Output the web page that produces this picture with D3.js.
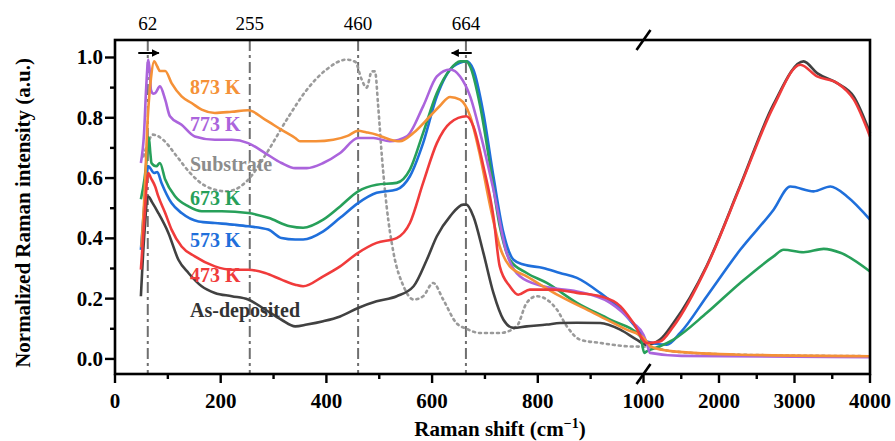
<!DOCTYPE html>
<html>
<head>
<meta charset="utf-8">
<script src="https://cdn.jsdelivr.net/npm/d3@7"></script>
<style>
  html, body { margin: 0; padding: 0; background: #fff; }
  svg { display: block; }
  text { font-family: "Liberation Serif", "Times New Roman", serif; }
</style>
</head>
<body>
<script>
// Raman spectra, [shift (cm^-1), normalized intensity]
const substrate = [[54,0.672],[63,0.72],[72,0.744],[91,0.727],[117,0.672],[142,0.617],[173,0.572],[211,0.556],[249,0.589],[287,0.683],[325,0.794],[363,0.893],[400,0.96],[438,0.993],[455,0.985],[466,0.93],[476,0.9],[486,0.954],[492,0.954],[498,0.838],[505,0.672],[514,0.506],[527,0.352],[546,0.241],[565,0.197],[583,0.208],[602,0.252],[621,0.197],[646,0.119],[665,0.1],[691,0.086],[728,0.086],[760,0.108],[779,0.186],[798,0.208],[817,0.197],[836,0.164],[855,0.108],[880,0.064],[918,0.053],[968,0.042],[1042,0.04],[1392,0.025],[2281,0.014],[4000,0.009]];
const asDeposited = [[49,0.208],[55,0.4],[63,0.539],[70,0.52],[82,0.484],[101,0.418],[120,0.329],[139,0.285],[164,0.241],[189,0.219],[221,0.208],[252,0.197],[284,0.164],[315,0.13],[341,0.108],[363,0.114],[394,0.125],[426,0.141],[460,0.169],[495,0.191],[533,0.208],[565,0.241],[590,0.329],[609,0.407],[634,0.473],[659,0.512],[665,0.512],[678,0.473],[697,0.352],[716,0.219],[735,0.13],[754,0.103],[779,0.108],[817,0.114],[842,0.119],[874,0.12],[918,0.119],[956,0.097],[987,0.064],[1042,0.047],[1219,0.064],[1396,0.119],[1839,0.31],[2281,0.575],[2723,0.845],[3121,0.987],[3299,0.948],[3565,0.915],[3786,0.87],[4000,0.75]];
const k473 = [[49,0.296],[55,0.45],[63,0.617],[68,0.6],[76,0.572],[82,0.539],[95,0.484],[107,0.429],[126,0.373],[151,0.34],[189,0.307],[221,0.296],[252,0.296],[284,0.285],[315,0.263],[341,0.246],[356,0.241],[394,0.274],[426,0.307],[460,0.352],[495,0.385],[533,0.401],[558,0.451],[583,0.584],[609,0.716],[634,0.783],[665,0.805],[678,0.772],[697,0.639],[716,0.473],[728,0.307],[747,0.241],[763,0.213],[785,0.23],[829,0.23],[874,0.219],[918,0.208],[956,0.175],[981,0.119],[1042,0.053],[1219,0.058],[1396,0.108],[1839,0.307],[2281,0.572],[2723,0.838],[3078,0.976],[3299,0.937],[3565,0.915],[3786,0.86],[4000,0.738]];
const k573 = [[49,0.362],[55,0.5],[63,0.639],[74,0.617],[80,0.62],[88,0.584],[107,0.517],[126,0.484],[158,0.456],[189,0.451],[227,0.445],[252,0.44],[290,0.429],[315,0.401],[341,0.396],[356,0.396],[394,0.423],[426,0.468],[460,0.517],[495,0.551],[533,0.562],[558,0.606],[583,0.716],[609,0.871],[640,0.97],[665,0.987],[678,0.96],[697,0.816],[716,0.606],[735,0.418],[754,0.329],[773,0.313],[810,0.302],[842,0.285],[874,0.269],[918,0.219],[956,0.164],[994,0.086],[1042,0.058],[1308,0.047],[1485,0.086],[1839,0.208],[2281,0.362],[2723,0.495],[2944,0.572],[3254,0.556],[3475,0.572],[3696,0.539],[4000,0.462]];
const k673 = [[49,0.53],[56,0.6],[62,0.7],[64,0.735],[67,0.68],[69,0.65],[78,0.639],[85,0.65],[95,0.595],[114,0.539],[139,0.506],[164,0.49],[202,0.49],[252,0.484],[290,0.468],[331,0.44],[356,0.435],[394,0.462],[426,0.506],[460,0.556],[495,0.578],[533,0.584],[558,0.628],[583,0.75],[609,0.882],[634,0.96],[653,0.987],[665,0.987],[672,0.97],[691,0.838],[710,0.639],[728,0.44],[747,0.329],[779,0.285],[817,0.252],[874,0.186],[937,0.13],[994,0.075],[1010,0.02],[1042,0.025],[1219,0.042],[1396,0.064],[1839,0.153],[2281,0.252],[2723,0.34],[2856,0.362],[3121,0.354],[3387,0.365],[3608,0.352],[4000,0.29]];
const k773 = [[49,0.65],[55,0.75],[59,0.9],[63,0.993],[66,0.95],[68,0.893],[72,0.88],[76,0.882],[85,0.904],[95,0.86],[104,0.805],[126,0.777],[151,0.738],[189,0.727],[221,0.727],[252,0.716],[284,0.683],[315,0.65],[341,0.633],[363,0.633],[394,0.65],[426,0.683],[460,0.733],[489,0.733],[520,0.722],[552,0.738],[583,0.838],[609,0.937],[634,0.96],[653,0.937],[672,0.871],[691,0.75],[716,0.562],[741,0.352],[766,0.274],[810,0.241],[874,0.224],[937,0.186],[981,0.119],[1000,0.08],[1042,0.053],[1086,0.02],[1500,0.01],[4000,0.006]];
const k873 = [[50,0.37],[56,0.55],[62,0.8],[68,0.93],[74,0.987],[80,0.97],[85,0.955],[95,0.955],[107,0.915],[126,0.871],[145,0.849],[164,0.827],[189,0.816],[221,0.82],[252,0.825],[284,0.794],[315,0.76],[341,0.733],[350,0.722],[380,0.722],[413,0.727],[440,0.74],[460,0.757],[475,0.752],[495,0.744],[520,0.728],[539,0.722],[565,0.75],[596,0.805],[615,0.84],[634,0.869],[653,0.86],[672,0.805],[691,0.672],[710,0.506],[728,0.373],[747,0.307],[779,0.274],[842,0.208],[905,0.153],[968,0.097],[1000,0.07],[1042,0.058],[1086,0.042],[1392,0.025],[2281,0.014],[4000,0.009]];

const seriesData   = [substrate, asDeposited, k573, k673, k773, k873, k473];
const seriesColors = ["#9a9a9a","#414141","#1f6fdb","#27a05a","#ab64dc","#f59137","#f03b3b"];

// labels listed top to bottom beside the curves
const labelNames = ["873 K","773 K","Substrate","673 K","573 K","473 K","As-deposited"];
const labelY     = [0.880, 0.757, 0.625, 0.510, 0.372, 0.255, 0.140];

const xMajor = [0,200,400,600,800,1000,2000,3000,4000];
const xMinor = [100,300,500,700,900,1500,2500,3500];
const yMajor = [0.0,0.2,0.4,0.6,0.8,1.0];
const yMinor = [0.1,0.3,0.5,0.7,0.9];
const markers = [62,255,460,664];
// peak-shift arrows: [from, to] in cm^-1
const shifts = [[44,83],[675,637]];

const W = 895, H = 441;
const L = 115, R = 870, T = 40, B = 374;

const svg = d3.select("body").append("svg").attr("width", W).attr("height", H);

// broken axis: 0–1000 linear, then compressed 1000–4000
const x = d3.scaleLinear().domain([0,1000,4000]).range([L,643.5,R]);
const y = d3.scaleLinear().domain([-0.05,1.058]).range([B,T]);

// marker guide lines
svg.append("g").selectAll("line").data(markers).join("line")
  .attr("x1", d => x(d)).attr("x2", d => x(d))
  .attr("y1", T).attr("y2", B)
  .attr("stroke", "#6f6f6f").attr("stroke-width", 2)
  .attr("stroke-dasharray", "11,4,3,4");

svg.append("g").selectAll("text").data(markers).join("text")
  .attr("x", d => x(d)).attr("y", 30)
  .attr("text-anchor", "middle").attr("font-size", 19)
  .text(d => d);

// spectra
const line = d3.line().x(d => x(d[0])).y(d => y(d[1])).curve(d3.curveMonotoneX);
svg.append("g").selectAll("path").data(seriesData).join("path")
  .attr("d", line)
  .attr("fill", "none")
  .attr("stroke", (d,i) => seriesColors[i])
  .attr("stroke-width", 2.6)
  .attr("stroke-linejoin", "round")
  .attr("stroke-dasharray", (d,i) => i === 0 ? "2,4" : null)
  .attr("stroke-linecap", (d,i) => i === 0 ? "round" : "butt");

// series labels
const labelColor = {"873 K":"#f59137","773 K":"#ab64dc","Substrate":"#8c8c8c","673 K":"#27a05a","573 K":"#1f6fdb","473 K":"#f03b3b","As-deposited":"#333"};
svg.append("g").selectAll("text").data(labelNames).join("text")
  .attr("x", 190).attr("y", (d,i) => y(labelY[i]))
  .attr("font-size", 20).attr("font-weight", "bold")
  .attr("fill", d => labelColor[d])
  .text(d => d);

// shift arrows at the top
const defs = svg.append("defs");
defs.append("marker").attr("id","ah").attr("viewBox","0 0 10 10")
  .attr("refX", 9).attr("refY", 5).attr("markerWidth", 4).attr("markerHeight", 4)
  .attr("orient","auto")
  .append("path").attr("d","M0,0 L10,5 L0,10 Z").attr("fill","#000");
svg.append("g").selectAll("line").data(shifts).join("line")
  .attr("x1", d => x(d[0])).attr("x2", d => x(d[1]))
  .attr("y1", 53).attr("y2", 53)
  .attr("stroke","#000").attr("stroke-width", 2).attr("marker-end","url(#ah)");

// frame
svg.append("rect").attr("x", L).attr("y", T).attr("width", R-L).attr("height", B-T)
  .attr("fill","none").attr("stroke","#000").attr("stroke-width", 2.6);

// bottom axis
const gx = svg.append("g");
gx.selectAll("line.maj").data(xMajor).join("line").attr("class","maj")
  .attr("x1", d => x(d)).attr("x2", d => x(d)).attr("y1", B).attr("y2", B+9)
  .attr("stroke","#000").attr("stroke-width", 2.4);
gx.selectAll("line.min").data(xMinor).join("line").attr("class","min")
  .attr("x1", d => x(d)).attr("x2", d => x(d)).attr("y1", B).attr("y2", B+5)
  .attr("stroke","#000").attr("stroke-width", 2.4);
gx.selectAll("text").data(xMajor).join("text")
  .attr("x", d => x(d)).attr("y", 408)
  .attr("text-anchor","middle").attr("font-size", 21).attr("font-weight","bold")
  .text(d => d);

// left axis
const gy = svg.append("g");
gy.selectAll("line.maj").data(yMajor).join("line").attr("class","maj")
  .attr("x1", L-10).attr("x2", L).attr("y1", d => y(d)).attr("y2", d => y(d))
  .attr("stroke","#000").attr("stroke-width", 2.4);
gy.selectAll("line.min").data(yMinor).join("line").attr("class","min")
  .attr("x1", L-5).attr("x2", L).attr("y1", d => y(d)).attr("y2", d => y(d))
  .attr("stroke","#000").attr("stroke-width", 2.4);
gy.selectAll("text").data(yMajor).join("text")
  .attr("x", L-12).attr("y", d => y(d) + 7)
  .attr("text-anchor","end").attr("font-size", 21).attr("font-weight","bold")
  .text(d => d.toFixed(1));

// axis break marks
[T, B].forEach(yy => {
  svg.append("line").attr("x1", x(1000)-7).attr("x2", x(1000)+7)
    .attr("y1", yy+10).attr("y2", yy-10)
    .attr("stroke","#000").attr("stroke-width", 2.6);
});

// axis titles
const xt = svg.append("text").attr("x", 500).attr("y", 436)
  .attr("text-anchor","middle").attr("font-size", 21).attr("font-weight","bold");
xt.append("tspan").text("Raman shift (cm");
xt.append("tspan").attr("dy", -8).attr("font-size", 14).text("\u22121");
xt.append("tspan").attr("dy", 8).text(")");

svg.append("text")
  .attr("transform", "translate(30,213) rotate(-90)")
  .attr("text-anchor","middle").attr("font-size", 21).attr("font-weight","bold")
  .text("Normalized Raman intensity (a.u.)");
</script>
</body>
</html>
